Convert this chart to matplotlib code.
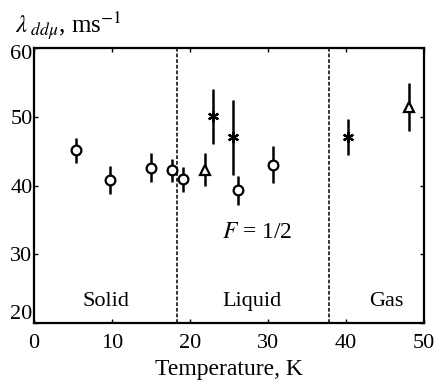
import matplotlib
matplotlib.use("Agg")
import matplotlib.pyplot as plt
from matplotlib.transforms import ScaledTranslation

plt.rcParams['font.family'] = ['Liberation Serif', 'DejaVu Serif']
plt.rcParams['mathtext.fontset'] = 'stix'

# Solid / liquid / gas measurements (temperature K, rate, error)
circ_T = [5.4, 9.7, 15.0, 17.7, 19.1, 26.2, 30.7]
circ_rate = [45.1, 40.8, 42.6, 42.2, 40.9, 39.3, 43.0]
circ_err = [1.8, 2.0, 2.1, 1.7, 1.8, 2.1, 2.7]

tri_T = [21.9, 48.1]
tri_rate = [42.3, 51.4]
tri_err = [2.4, 3.5]

star_T = [23.0, 25.5, 40.2]
star_rate = [50.1, 47.0, 47.1]
star_err = [4.0, 5.4, 2.6]

phase_bounds = [18.4, 37.8]
phase_names = ['Solid', 'Liquid', 'Gas']
phase_label_x = [9.3, 28.0, 45.2]

fig = plt.figure(figsize=(4.34, 3.81), dpi=100)
ax = fig.add_axes([0.078, 0.152, 0.899, 0.722])

common = dict(ls='none', ecolor='black', elinewidth=1.8, capsize=0,
              mec='black', mew=1.6, color='black')
ax.errorbar(circ_T, circ_rate, yerr=circ_err, marker='o', ms=7, mfc='white', **common)
ax.errorbar(tri_T, tri_rate, yerr=tri_err, marker='^', ms=7.5, mfc='white', **common)
ax.errorbar(star_T, star_rate, yerr=star_err, marker=(6, 2, 0), ms=8, mfc='black', **common)

for xb in phase_bounds:
    ax.axvline(xb, color='black', ls=(0, (2.5, 1.2)), lw=1.1)

for name, xp in zip(phase_names, phase_label_x):
    ax.text(xp, 23.2, name, ha='center', va='center', fontsize=16)

ax.text(28.6, 33.2, r'$F$ = 1/2', ha='center', va='center', fontsize=17)

ax.set_xlim(0, 50)
ax.set_ylim(20, 60)
ax.set_xticks([0, 10, 20, 30, 40, 50])
ax.set_yticks([20, 30, 40, 50, 60])
ax.tick_params(direction='in', length=3, width=1, labelsize=16,
               top=True, right=True)
ax.tick_params(axis='x', pad=8)
ax.tick_params(axis='y', pad=1)
for sp in ax.spines.values():
    sp.set_linewidth(1.6)

# nudge the end labels of the y axis inward
ylabels = ax.get_yticklabels()
ylabels[0].set_transform(ylabels[0].get_transform() + ScaledTranslation(0, 8 / 72, fig.dpi_scale_trans))
ylabels[-1].set_transform(ylabels[-1].get_transform() + ScaledTranslation(0, -3 / 72, fig.dpi_scale_trans))

ax.set_xlabel('Temperature, K', fontsize=17, labelpad=4)
fig.text(0.035, 0.975, r'$\lambda_{\ dd\mu}$, ms$^{-1}$', ha='left', va='top', fontsize=18)

fig.savefig('out.png', dpi=100)
